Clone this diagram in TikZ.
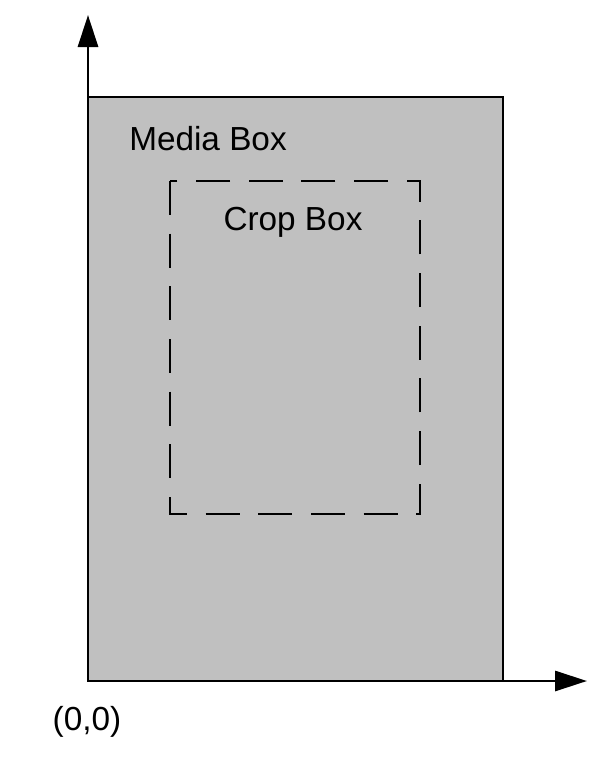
\documentclass[tikz,border=0pt]{standalone}
\usepackage{fontspec}
\setmainfont{Liberation Sans}
\usepackage{tikz}
\usetikzlibrary{arrows.meta,positioning}

\begin{document}
\begin{tikzpicture}[x=0.75pt,y=-0.75pt,>={Triangle[length=24pt,width=15pt]},
                    every node/.style={font=\fontsize{25}{30}\selectfont},
                    boxline/.style={line width=2.2pt},
                    cropline/.style={line width=1.5pt,dash pattern=on 25.5pt off 14pt}]
                    \useasboundingbox (0,0) rectangle (603,768);
                    \coordinate (o) at (88,681);
                    \coordinate (ytip) at (88,15);
                    \coordinate (xtip) at (587,681);
                    \coordinate (mtr) at (503,97);
                    \coordinate (ctl) at (170,181);
                    \coordinate (cbr) at (420,514);
                    \filldraw[boxline,fill={rgb,255:red,192;green,192;blue,192}] (o) rectangle (mtr);
                    \draw[cropline] (ctl) rectangle (cbr);
                    \draw[boxline,->] (o) -- (ytip);
                    \draw[boxline,->] (o) -- (xtip);
                    \node (media) at (208,139) {Media Box};
                    \node (crop) at (293,222) {Crop Box};
                    \node (origin) at (87,722) {(0,0)};
                \end{tikzpicture}
\end{document}
